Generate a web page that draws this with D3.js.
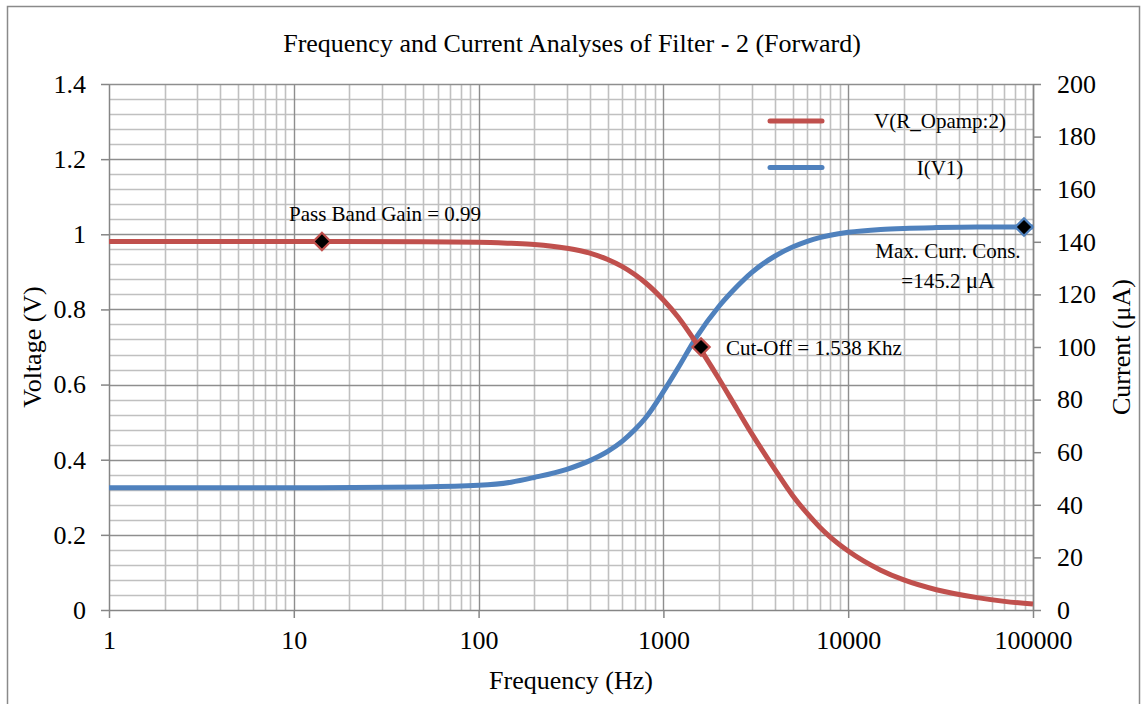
<!DOCTYPE html>
<html>
<head>
<meta charset="utf-8">
<script src="https://cdn.jsdelivr.net/npm/d3@7"></script>
<style>
  body { margin: 0; background: #fff; }
  svg { font-family: "Liberation Serif", "Times New Roman", serif; }
</style>
</head>
<body>
<svg id="chart"></svg>
<script>
var viewWidth = 1144;
var viewHeight = 704;

// data
var freqs   = [1, 10, 50, 100, 150, 200, 300, 400, 500, 600, 700, 800, 1000, 1200, 1500, 2000, 2500, 3000, 4000, 5000, 6000, 7000, 8000, 10000, 15000, 20000, 30000, 50000, 70000, 100000];
var voltage = [0.981, 0.981, 0.980, 0.979, 0.976, 0.973, 0.963, 0.950, 0.933, 0.914, 0.893, 0.871, 0.825, 0.780, 0.712, 0.615, 0.535, 0.470, 0.375, 0.305, 0.257, 0.221, 0.194, 0.157, 0.106, 0.080, 0.054, 0.033, 0.023, 0.016];
var current = [46.5, 46.5, 46.8, 47.4, 48.6, 50.4, 53.5, 56.8, 60.3, 64.2, 68.5, 73.0, 83.0, 92.0, 103.5, 115.5, 123.0, 128.3, 134.5, 138.0, 140.2, 141.6, 142.5, 143.6, 144.7, 145.1, 145.4, 145.6, 145.6, 145.6];

var vMarkers = [{f: 14.2, v: 0.981}, {f: 1598, v: 0.70}];
var iMarkers = [{f: 89400, i: 145.6}];

var xTickValues = [1, 10, 100, 1000, 10000, 100000];
var vTickValues = [0, 0.2, 0.4, 0.6, 0.8, 1, 1.2, 1.4];
var iTickValues = [0, 20, 40, 60, 80, 100, 120, 140, 160, 180, 200];

var seriesNames = ["V(R_Opamp:2)", "I(V1)"];
var red = "#c0504d", blue = "#4f81bd";

var margin = {top: 84, right: 111, bottom: 94, left: 109};
var width = viewWidth - margin.left - margin.right;
var height = viewHeight - margin.top - margin.bottom;

var svg = d3.select("#chart")
    .attr("width", viewWidth)
    .attr("height", viewHeight);

// outer frame
svg.append("rect")
    .attr("x", 7.5).attr("y", 6.5)
    .attr("width", 1132).attr("height", 710)
    .attr("fill", "none").attr("stroke", "#8a8a8a").attr("stroke-width", 1.5);

svg.append("text")
    .attr("x", 572).attr("y", 52)
    .attr("text-anchor", "middle")
    .style("font-size", "26px")
    .text("Frequency and Current Analyses of Filter - 2 (Forward)");

var g = svg.append("g")
    .attr("transform", "translate(" + margin.left + "," + margin.top + ")");

var x = d3.scaleLog().domain([1, 100000]).range([0, width]);
var yV = d3.scaleLinear().domain([0, 1.4]).range([height, 0]);
var yI = d3.scaleLinear().domain([0, 200]).range([height, 0]);

// grid: minor first, then major
var minorX = [];
for (var d = 1; d < 100000; d *= 10)
  for (var k = 2; k <= 9; k++) minorX.push(d * k);
var minorY = d3.range(0, 1.4001, 0.04).filter(function(v) { return Math.abs(v / 0.2 - Math.round(v / 0.2)) > 0.01; });

g.append("g").selectAll("line").data(minorX).enter().append("line")
    .attr("x1", function(d) { return Math.round(x(d)) + 0.5; })
    .attr("x2", function(d) { return Math.round(x(d)) + 0.5; })
    .attr("y1", 0).attr("y2", height)
    .attr("stroke", "#c0c0c0").attr("stroke-width", 1.6);
g.append("g").selectAll("line").data(minorY).enter().append("line")
    .attr("y1", function(d) { return Math.round(yV(d)) + 0.5; })
    .attr("y2", function(d) { return Math.round(yV(d)) + 0.5; })
    .attr("x1", 0).attr("x2", width)
    .attr("stroke", "#c0c0c0").attr("stroke-width", 1.6);
g.append("g").selectAll("line").data(xTickValues.slice(1)).enter().append("line")
    .attr("x1", function(d) { return Math.round(x(d)) + 0.5; })
    .attr("x2", function(d) { return Math.round(x(d)) + 0.5; })
    .attr("y1", 0).attr("y2", height)
    .attr("stroke", "#8e8e8e").attr("stroke-width", 1.4);
g.append("g").selectAll("line").data(vTickValues.slice(1)).enter().append("line")
    .attr("y1", function(d) { return Math.round(yV(d)) + 0.5; })
    .attr("y2", function(d) { return Math.round(yV(d)) + 0.5; })
    .attr("x1", 0).attr("x2", width)
    .attr("stroke", "#8e8e8e").attr("stroke-width", 1.4);

// axes
function styleAxis(sel) {
  sel.selectAll(".domain").attr("stroke", "#868686").attr("stroke-width", 1.5);
  sel.selectAll(".tick line").attr("stroke", "#868686").attr("stroke-width", 1.5);
  sel.selectAll(".tick text").attr("fill", "#000").style("font-size", "26px")
     .style("font-family", "'Liberation Serif', 'Times New Roman', serif");
}

var xAxis = d3.axisBottom(x).tickValues(xTickValues).tickFormat(d3.format("d")).tickSize(8).tickSizeOuter(0).tickPadding(13);
var vAxis = d3.axisLeft(yV).tickValues(vTickValues).tickFormat(function(d) { return d3.format("")(+d.toFixed(1)); }).tickSize(8).tickSizeOuter(0).tickPadding(15);
var iAxis = d3.axisRight(yI).tickValues(iTickValues).tickSize(8).tickSizeOuter(0).tickPadding(16);

g.append("g").attr("transform", "translate(0," + height + ")").call(xAxis).call(styleAxis);
g.append("g").call(vAxis).call(styleAxis);
g.append("g").attr("transform", "translate(" + width + ",0)").call(iAxis).call(styleAxis);

// axis titles
svg.append("text")
    .attr("x", 571).attr("y", 689)
    .attr("text-anchor", "middle").style("font-size", "26px")
    .text("Frequency (Hz)");
svg.append("text")
    .attr("transform", "translate(41,347) rotate(-90)")
    .attr("text-anchor", "middle").style("font-size", "26px")
    .text("Voltage (V)");
svg.append("text")
    .attr("transform", "translate(1130,347) rotate(-90)")
    .attr("text-anchor", "middle").style("font-size", "26px")
    .text("Current (\u03bcA)");

// curves
var lineV = d3.line()
    .x(function(d, i) { return x(freqs[i]); })
    .y(function(d) { return yV(d); })
    .curve(d3.curveMonotoneX);
var lineI = d3.line()
    .x(function(d, i) { return x(freqs[i]); })
    .y(function(d) { return yI(d); })
    .curve(d3.curveMonotoneX);

g.append("path").datum(current).attr("d", lineI)
    .attr("fill", "none").attr("stroke", blue).attr("stroke-width", 5);
g.append("path").datum(voltage).attr("d", lineV)
    .attr("fill", "none").attr("stroke", red).attr("stroke-width", 5);

// markers (diamonds)
var diamond = d3.symbol().type(d3.symbolSquare).size(150);
g.selectAll(".vm").data(vMarkers).enter().append("path")
    .attr("class", "vm")
    .attr("transform", function(d) { return "translate(" + x(d.f) + "," + yV(d.v) + ") rotate(45)"; })
    .attr("d", diamond)
    .attr("fill", "#000").attr("stroke", red).attr("stroke-width", 2.2);
g.selectAll(".im").data(iMarkers).enter().append("path")
    .attr("class", "im")
    .attr("transform", function(d) { return "translate(" + x(d.f) + "," + yI(d.i) + ") rotate(45)"; })
    .attr("d", diamond)
    .attr("fill", "#000").attr("stroke", blue).attr("stroke-width", 2.2);

// annotations
function note(tx, ty, anchor, str) {
  return svg.append("text").attr("x", tx).attr("y", ty)
     .attr("text-anchor", anchor).style("font-size", "21px").text(str);
}
note(289, 221, "start", "Pass Band Gain = 0.99");
note(726, 355, "start", "Cut-Off = 1.538 Khz");
note(948, 258, "middle", "Max. Curr. Cons.");
note(948, 288, "middle", "=145.2 ").append("tspan").style("font-size", "23px").text("\u03bcA");

// legend
var legend = svg.append("g");
var legendColors = [red, blue];
seriesNames.forEach(function(name, i) {
  var ly = 121 + i * 46.5;
  legend.append("line")
      .attr("x1", 770).attr("x2", 822).attr("y1", ly).attr("y2", ly)
      .attr("stroke", legendColors[i]).attr("stroke-width", 5).attr("stroke-linecap", "round");
  legend.append("text")
      .attr("x", 940).attr("y", ly + 7)
      .attr("text-anchor", "middle").style("font-size", "21px")
      .text(name);
});
</script>
</body>
</html>
